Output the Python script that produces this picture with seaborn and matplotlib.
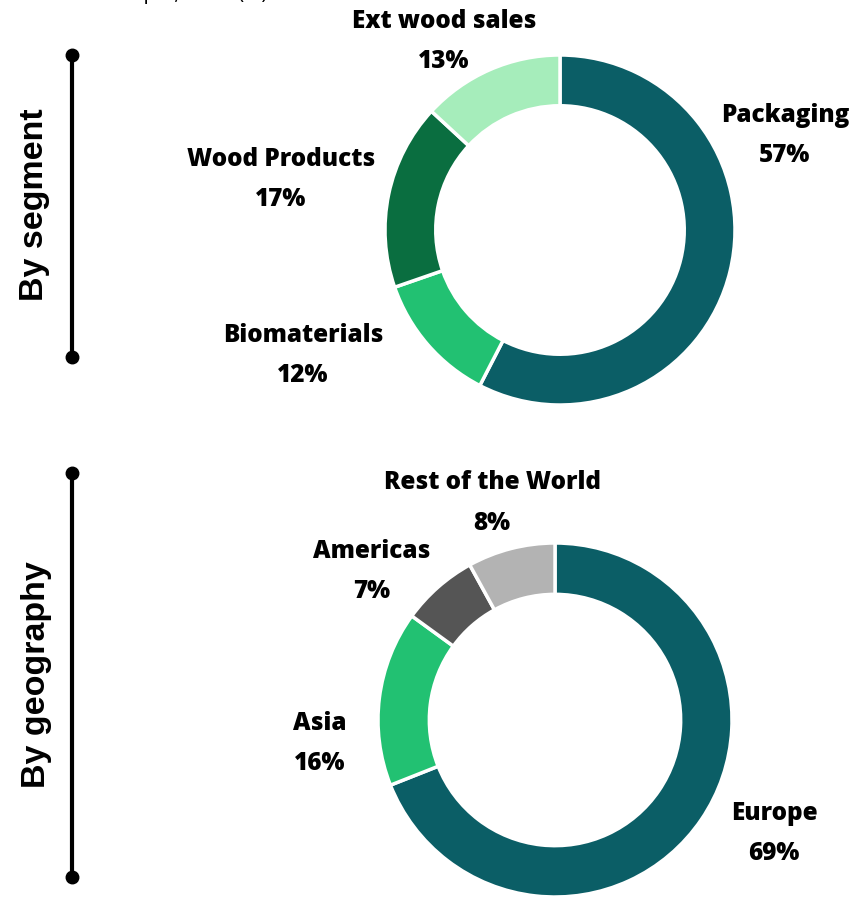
import matplotlib
matplotlib.use("Agg")
import matplotlib.pyplot as plt
import seaborn as sns

seg_labels = ["Packaging", "Biomaterials", "Wood Products", "Ext wood sales"]
seg_values = [57, 12, 17, 13]
seg_colors = ["#0B5E66", "#22C172", "#0A6E40", "#A6EDBB"]

geo_labels = ["Europe", "Asia", "Americas", "Rest of the World"]
geo_values = [69, 16, 7, 8]
geo_colors = ["#0B5E66", "#22C172", "#555555", "#B3B3B3"]

sns.set_theme(style="white")
plt.rcParams["font.family"] = ["Open Sans", "DejaVu Sans"]

W, H = 866, 900
fig = plt.figure(figsize=(W / 100, H / 100), dpi=100)


def px_axes(cx, cy, r):
    return fig.add_axes([(cx - r) / W, (H - cy - r) / H, 2 * r / W, 2 * r / H])


def ftext(x, y, s, **kw):
    fig.text(x / W, 1 - y / H, s, ha="center", va="center", **kw)


def donut(cx, cy, r, values, colors):
    ax = px_axes(cx, cy, r)
    ax.pie(values, colors=colors, startangle=90, counterclock=False,
           radius=1.0, wedgeprops=dict(width=0.29, edgecolor="white", linewidth=2.5))
    ax.set_xlim(-1, 1)
    ax.set_ylim(-1, 1)
    ax.set_aspect("equal")
    ax.axis("off")
    return ax


donut(560, 230, 175, seg_values, seg_colors)
donut(555, 720, 177, geo_values, geo_colors)

lab_kw = dict(fontsize=17.5, fontweight="heavy", color="black")
seg_pos = [(785, 116), (303, 336), (281, 159), (444, 22)]
for (x, y), lab, v in zip(seg_pos, seg_labels, seg_values):
    ftext(x, y, lab, **lab_kw)
    ftext(x, y + 40, f"{v}%", **lab_kw)

geo_pos = [(774, 814), (320, 724), (372, 551), (492, 483)]
for (x, y), lab, v in zip(geo_pos, geo_labels, geo_values):
    ftext(x, y, lab, **lab_kw)
    ftext(x, y + 40, f"{v}%", **lab_kw)

# side brackets
lax = fig.add_axes([0, 0, 1, 1])
lax.set_xlim(0, W)
lax.set_ylim(H, 0)
lax.axis("off")
for y0, y1 in [(55, 357), (473, 877)]:
    lax.plot([72, 72], [y0, y1], color="black", lw=3, solid_capstyle="butt")
    lax.plot([72, 72], [y0, y1], "o", color="black", ms=9)

side_kw = dict(fontsize=24.5, fontweight="bold", color="black", rotation=90,
               family=["Liberation Sans", "DejaVu Sans"])
ftext(35, 205, "By segment", **side_kw)
ftext(37, 675, "By geography", **side_kw)

# partially visible title at the very top
fig.text(268 / W, 1 - 4 / H, "Sales split, 2024 (%)", ha="right", va="bottom",
         fontsize=15, color="black")

fig.savefig("out.png", dpi=100)
